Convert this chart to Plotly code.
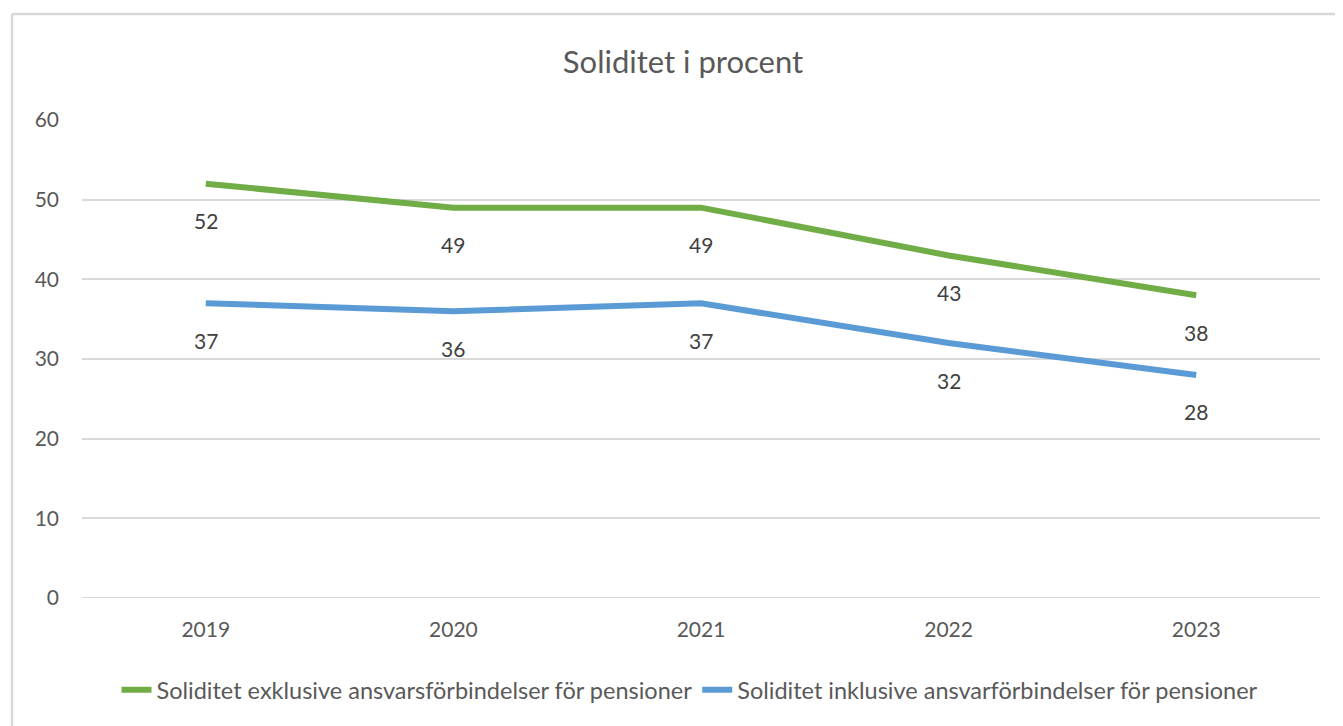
import plotly.graph_objects as go

years = ["2019", "2020", "2021", "2022", "2023"]
excl = [52, 49, 49, 43, 38]
incl = [37, 36, 37, 32, 28]
name_excl = "Soliditet exklusive ansvarsförbindelser för pensioner"
name_incl = "Soliditet inklusive ansvarförbindelser för pensioner"
title = "Soliditet i procent"
yticks = [0, 10, 20, 30, 40, 50, 60]

GREEN = "#70AD47"
BLUE = "#5B9BD5"
TXT = "#595959"
GRID = "#D9D9D9"
FONT = "Lato, 'Open Sans', sans-serif"

# page body has an 8px margin: figure coords = screen coords - 8
OFF = 8
W, H = 1343 - OFF, 726 - OFF
L, T = 82 - OFF, 120 - OFF
R = W - (1320 - OFF)
B = H - (598 - OFF)
pw, ph = W - L - R, H - T - B

fig = go.Figure()
fig.add_trace(go.Scatter(x=years, y=excl, mode="lines", name=name_excl,
                         line=dict(color=GREEN, width=6)))
fig.add_trace(go.Scatter(x=years, y=incl, mode="lines", name=name_incl,
                         line=dict(color=BLUE, width=6)))

annotations = []
for ys in (excl, incl):
    for i, y in enumerate(ys):
        annotations.append(dict(x=i, y=y, xref="x", yref="y", text=str(y),
                                showarrow=False, yshift=-37,
                                font=dict(family=FONT, size=21, color="#404040")))

fig.update_layout(
    width=W, height=H,
    margin=dict(l=L, r=R, t=T, b=B),
    paper_bgcolor="white", plot_bgcolor="white",
    font=dict(family=FONT, color=TXT, size=21),
    title=dict(text=title, x=(683 - OFF) / W, xanchor="center",
               y=1 - (62 - OFF) / H, yanchor="middle",
               font=dict(family=FONT, size=31, color=TXT)),
    xaxis=dict(type="category", range=[-0.5, 4.5], showgrid=False, showline=False,
               zeroline=False, ticks="", tickfont=dict(size=21, color=TXT),
               ticklabelstandoff=17),
    yaxis=dict(range=[0, 60], tickvals=yticks, showgrid=True, gridcolor=GRID, gridwidth=2,
               zeroline=False, showline=False, ticks="", tickfont=dict(size=21, color=TXT),
               ticklabelstandoff=22),
    legend=dict(orientation="h", x=(690 - OFF) / W, xref="container", xanchor="center",
                y=1 - (690 - OFF) / H, yref="container", yanchor="middle",
                font=dict(size=23.5, color=TXT), tracegroupgap=0),
    annotations=annotations,
    shapes=[
        dict(type="line", xref="paper", yref="paper", x0=(12 - 82) / pw, x1=(W + 20 - L) / pw,
             y0=1 + (120 - 14) / ph, y1=1 + (120 - 14) / ph, line=dict(color=GRID, width=2.5)),
        dict(type="line", xref="paper", yref="paper", x0=(12 - 82) / pw, x1=(12 - 82) / pw,
             y0=1 + (120 - 14) / ph, y1=-(B + 20) / ph, line=dict(color=GRID, width=2.5)),
        dict(type="line", xref="paper", yref="y", x0=0, x1=1, y0=0, y1=0,
             line=dict(color=GRID, width=2), layer="below"),
    ],
)

fig.write_html("out.html")
